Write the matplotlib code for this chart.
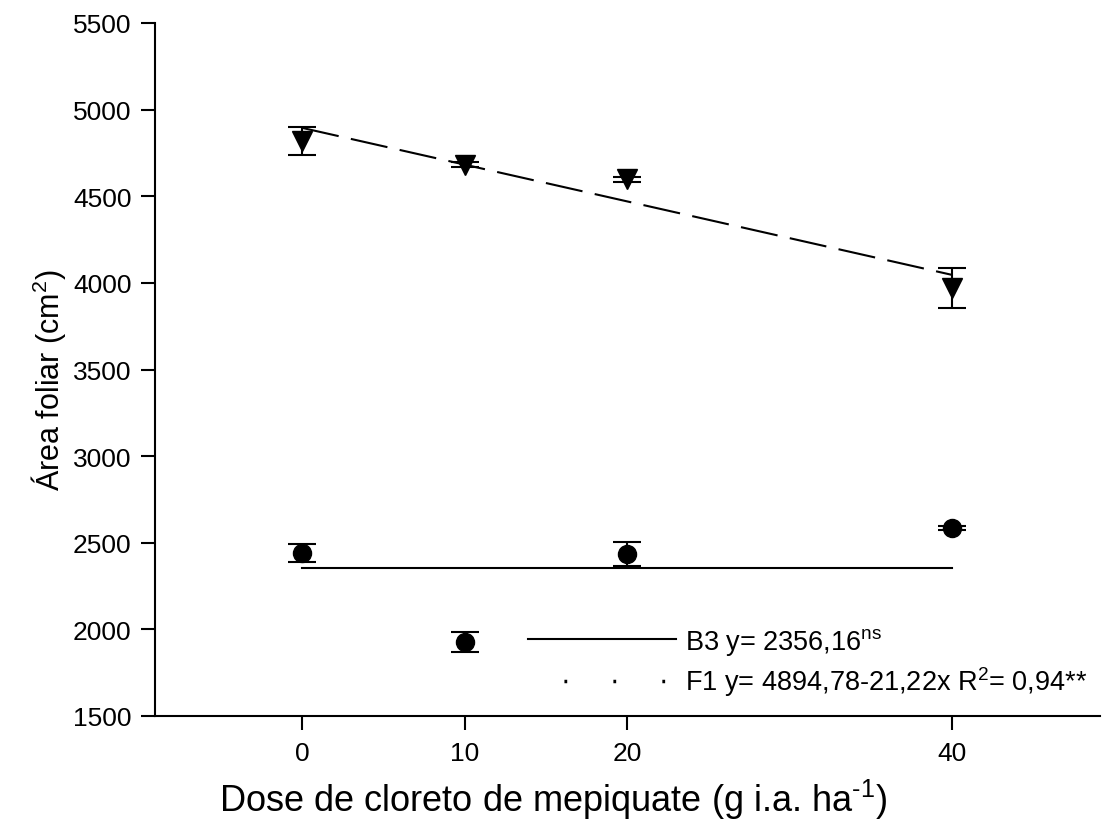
import matplotlib
matplotlib.use("Agg")
import matplotlib.pyplot as plt
from matplotlib.lines import Line2D
import numpy as np

plt.rcParams['font.family'] = ['Liberation Sans', 'DejaVu Sans']
plt.rcParams['mathtext.fontset'] = 'custom'
plt.rcParams['mathtext.rm'] = 'Liberation Sans'
plt.rcParams['mathtext.it'] = 'Liberation Sans:italic'

# doses (g i.a. ha-1)
dose = [0, 10, 20, 40]
# B3 - circles
b3_mean = [2440, 1926, 2435, 2585]
b3_err = [51, 58, 72, 12]
# F1 - triangles
f1_mean = [4818, 4683, 4598, 3970]
f1_err = [79, 12, 15, 113]
# fitted models
b3_fit = 2356.16
f1_a = 4894.78
f1_b = -21.22
b3_label = r"B3 y= 2356,16$^{\mathrm{ns}}$"
f1_label = r"F1 y= 4894,78-21,22x R$^{2}$= 0,94**"
yticks = [1500, 2000, 2500, 3000, 3500, 4000, 4500, 5000, 5500]

fig = plt.figure(figsize=(11.07, 8.37), dpi=100)
ax = fig.add_axes([155/1107, 1-717/837, 945/1107, 693/837])

x_fit = np.array([dose[0], dose[-1]])
ax.plot(x_fit, [b3_fit, b3_fit], color="black", lw=1.5, zorder=2)
ax.plot(x_fit, f1_a + f1_b*x_fit, color="black", lw=1.5, dashes=(18, 6), zorder=2)

ax.errorbar(dose, b3_mean, yerr=b3_err, fmt="o", ms=13, color="black",
            ecolor="black", elinewidth=1.5, capsize=10, capthick=1.5, zorder=3)
ax.errorbar(dose, f1_mean, yerr=f1_err, fmt="v", ms=14, color="black",
            ecolor="black", elinewidth=1.5, capsize=10, capthick=1.5, zorder=3)

ax.set_xlim(-9.05, 49.1)
ax.set_ylim(1500, 5500)
ax.set_xticks(dose)
ax.set_yticks(yticks)
ax.tick_params(axis="both", direction="out", length=10, width=1.5, labelsize=19)
ax.tick_params(axis="x", pad=8)
ax.tick_params(axis="y", pad=7)
ax.spines["top"].set_visible(False)
ax.spines["right"].set_visible(False)
ax.spines["left"].set_linewidth(1.5)
ax.spines["bottom"].set_linewidth(1.5)

ax.set_xlabel(r"Dose de cloreto de mepiquate (g i.a. ha$^{\text{-1}}$)", fontsize=26)
ax.xaxis.set_label_coords(0.421, -0.088)
ax.set_ylabel(r"Área foliar (cm$^{2}$)", fontsize=22)
ax.yaxis.set_label_coords(-0.092, 0.486)

handles = [Line2D([], [], color="black", lw=1.5),
           Line2D([], [], color="black", lw=2.5, linestyle=(3.75, (0.8, 13.3)))]
fs = 19.5
px = fs*100/72
ax.legend(handles, [b3_label, f1_label], loc="center left",
          bbox_to_anchor=(528/1107, 1-663/837), bbox_transform=fig.transFigure,
          frameon=False, fontsize=fs, handlelength=148/px, handletextpad=9/px,
          borderpad=0, borderaxespad=0, labelspacing=0.3)

fig.savefig("out.png", dpi=100)
